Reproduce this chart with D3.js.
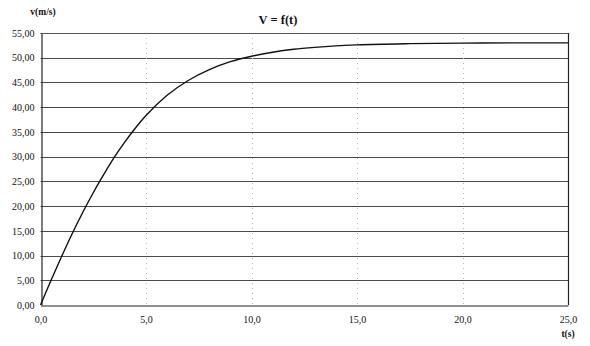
<!DOCTYPE html>
<html>
<head>
<meta charset="utf-8">
<script src="https://cdn.jsdelivr.net/npm/d3@7"></script>
<style>
  html, body { margin: 0; padding: 0; background: #fff; }
  svg { display: block; }
  text { font-family: "Liberation Serif", "DejaVu Serif", serif; fill: #111; }
</style>
</head>
<body>
<script>
// Velocity of a falling body against time
const times = [0, 0.5, 1, 1.5, 2, 2.5, 3, 3.5, 4, 4.5, 5, 6, 7, 8, 9, 10, 11, 12, 13, 14, 15, 17.5, 20, 22.5, 25];
const speeds = [0, 5.0, 9.8, 14.4, 18.7, 22.7, 26.4, 29.9, 33.0, 35.8, 38.3, 42.4, 45.4, 47.6, 49.2, 50.3, 51.1, 51.7, 52.1, 52.4, 52.6, 52.85, 52.95, 53.0, 53.0];
const xTicks = [0, 5, 10, 15, 20, 25];
const yTicks = [0, 5, 10, 15, 20, 25, 30, 35, 40, 45, 50, 55];
const chartTitle = "V = f(t)";
const yTitle = "v(m/s)";
const xTitle = "t(s)";

const W = 590, H = 346;
const margin = { left: 40.5, right: 22, top: 33, bottom: 41 };

const svg = d3.select("body").append("svg").attr("width", W).attr("height", H);

const x = d3.scaleLinear().domain([0, 25]).range([margin.left, W - margin.right]);
const y = d3.scaleLinear().domain([0, 55]).range([H - margin.bottom, margin.top]);

const fmtY = v => d3.format(".2f")(v).replace(".", ",");
const fmtX = v => d3.format(".1f")(v).replace(".", ",");

// horizontal gridlines
svg.append("g").selectAll("line").data(yTicks.filter(d => d > 0)).join("line")
  .attr("x1", x(0)).attr("x2", x(25))
  .attr("y1", d => Math.round(y(d)) + 0.5).attr("y2", d => Math.round(y(d)) + 0.5)
  .attr("stroke", "#4a4a4a").attr("stroke-width", 1);

// vertical dotted gridlines
svg.append("g").selectAll("line").data(xTicks.filter(d => d > 0 && d < 25)).join("line")
  .attr("x1", d => Math.round(x(d)) + 0.5).attr("x2", d => Math.round(x(d)) + 0.5)
  .attr("y1", y(55)).attr("y2", y(0))
  .attr("stroke", "#b8b8b8").attr("stroke-width", 1).attr("stroke-dasharray", "1,4");

// plot frame
svg.append("line").attr("x1", x(25) + 0.5).attr("x2", x(25) + 0.5)
  .attr("y1", y(55)).attr("y2", y(0)).attr("stroke", "#222").attr("stroke-width", 1.2);

// axes
const yAxis = d3.axisLeft(y).tickValues(yTicks).tickFormat(fmtY).tickSize(0).tickPadding(7);
const gy = svg.append("g").attr("transform", `translate(${Math.round(x(0)) + 0.5},0)`).call(yAxis);
gy.select(".domain").attr("stroke", "#222").attr("stroke-width", 1.2);
gy.selectAll("text").attr("font-size", 10).attr("fill", "#111");

const xAxis = d3.axisBottom(x).tickValues(xTicks).tickFormat(fmtX).tickSize(0).tickPadding(10);
const gx = svg.append("g").attr("transform", `translate(0,${Math.round(y(0)) + 0.5})`).call(xAxis);
gx.select(".domain").attr("stroke", "#222").attr("stroke-width", 1.2);
gx.selectAll("text").attr("font-size", 10).attr("fill", "#111");

// top border
svg.append("line").attr("x1", x(0)).attr("x2", x(25))
  .attr("y1", Math.round(y(55)) + 0.5).attr("y2", Math.round(y(55)) + 0.5)
  .attr("stroke", "#555").attr("stroke-width", 1);

// velocity curve
const line = d3.line().x((d, i) => x(times[i])).y(d => y(d)).curve(d3.curveMonotoneX);
svg.append("path").datum(speeds)
  .attr("d", line).attr("fill", "none")
  .attr("stroke", "#111").attr("stroke-width", 1.4);

// titles
svg.append("text").attr("x", 278).attr("y", 24).attr("text-anchor", "middle")
  .attr("font-size", 12.5).attr("font-weight", "bold").text(chartTitle);
svg.append("text").attr("x", 43).attr("y", 15).attr("text-anchor", "middle")
  .attr("font-size", 9.5).attr("font-weight", "bold").text(yTitle);
svg.append("text").attr("x", 568).attr("y", 337).attr("text-anchor", "middle")
  .attr("font-size", 9.5).attr("font-weight", "bold").text(xTitle);
</script>
</body>
</html>
